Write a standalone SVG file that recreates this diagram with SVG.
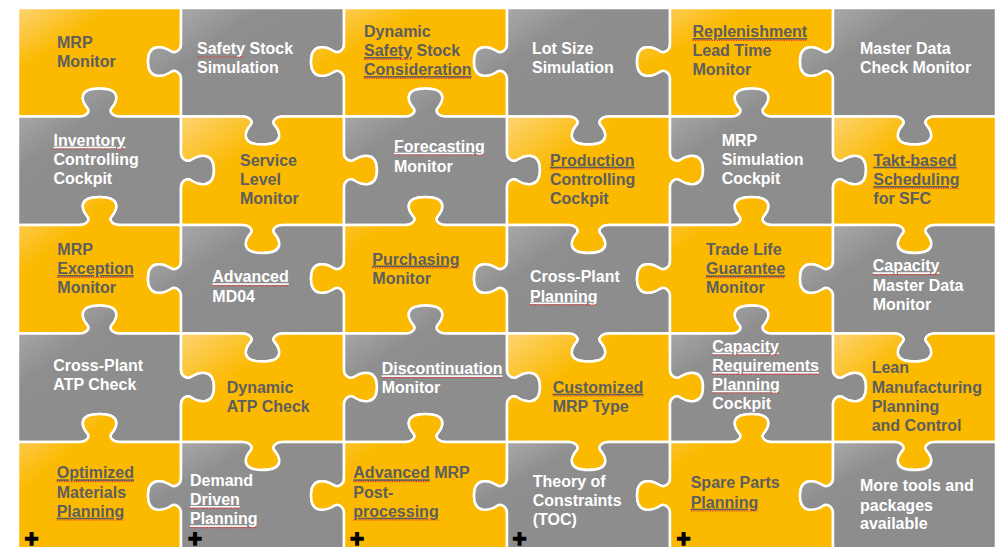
<svg xmlns="http://www.w3.org/2000/svg" width="995" height="547" viewBox="0 0 995 547">
<defs>
<linearGradient id="gy" x1="0" y1="0" x2="1" y2="1"><stop offset="0" stop-color="#FDD473"/><stop offset="0.3" stop-color="#FBB900"/><stop offset="1" stop-color="#FBB900"/></linearGradient>
<linearGradient id="gg" x1="0" y1="0" x2="1" y2="1"><stop offset="0" stop-color="#B3B3B3"/><stop offset="0.3" stop-color="#8E8E8E"/><stop offset="1" stop-color="#8C8C8C"/></linearGradient>
<style>
.y{fill:url(#gy);stroke:#fff;stroke-width:2.5;stroke-linejoin:round}
.g{fill:url(#gg);stroke:#fff;stroke-width:2.5;stroke-linejoin:round}
text{font-family:"Liberation Sans",Arial,sans-serif;font-weight:bold;font-size:16px}
.d{fill:#5E5E5E}
.w{fill:#FFFFFF}
.u{text-decoration:underline}
.sq{stroke:#E8322E;stroke-width:1.2;stroke-dasharray:1.2 1.2;fill:none}
.pl{font-size:24px;fill:#000;stroke:#000;stroke-width:1.3;text-anchor:middle}
</style>
</defs>
<rect width="995" height="547" fill="#fff"/>

<g id="r0c0">
<path class="y" transform="translate(18,8)" d="M0,0h163v36.5c0,5.1 -4.95,9.52 -9.9,6.8c-8.25,-5.1 -23.1,-8.5 -23.1,10.2c0,18.7 14.85,15.3 23.1,10.2c4.95,-2.72 9.9,1.7 9.9,6.8v38h-61.5c-6,0 -11.2,-4.2 -8,-8.4c6,-7 10,-19.6 -12,-19.6c-22,0 -18,12.6 -12,19.6c3.2,4.2 -2,8.4 -8,8.4h-61.5z"/>
<text class="d"><tspan x="57" y="47.7">MRP</tspan><tspan x="57" y="67">Monitor</tspan></text>
</g>
<g id="r0c1">
<path class="g" transform="translate(181,8)" d="M0,0h163v36.5c0,5.1 -4.95,9.52 -9.9,6.8c-8.25,-5.1 -23.1,-8.5 -23.1,10.2c0,18.7 14.85,15.3 23.1,10.2c4.95,-2.72 9.9,1.7 9.9,6.8v38h-61.5c-6,0 -11.2,4.2 -8,8.4c6,7 10,19.6 -12,19.6c-22,0 -18,-12.6 -12,-19.6c3.2,-4.2 -2,-8.4 -8,-8.4h-61.5v-38c0,-5.1 -4.95,-9.52 -9.9,-6.8c-8.25,5.1 -23.1,8.5 -23.1,-10.2c0,-18.7 14.85,-15.3 23.1,-10.2c4.95,2.72 9.9,-1.7 9.9,-6.8z"/>
<text class="w"><tspan x="197" y="54">Safety Stock</tspan><tspan x="197" y="73">Simulation</tspan></text>
<line class="sq" x1="197" y1="57" x2="245" y2="57"/>
</g>
<g id="r0c2">
<path class="y" transform="translate(344,8)" d="M0,0h163v36.5c0,5.1 -4.95,9.52 -9.9,6.8c-8.25,-5.1 -23.1,-8.5 -23.1,10.2c0,18.7 14.85,15.3 23.1,10.2c4.95,-2.72 9.9,1.7 9.9,6.8v38h-61.5c-6,0 -11.2,-4.2 -8,-8.4c6,-7 10,-19.6 -12,-19.6c-22,0 -18,12.6 -12,19.6c3.2,4.2 -2,8.4 -8,8.4h-61.5v-38c0,-5.1 -4.95,-9.52 -9.9,-6.8c-8.25,5.1 -23.1,8.5 -23.1,-10.2c0,-18.7 14.85,-15.3 23.1,-10.2c4.95,2.72 9.9,-1.7 9.9,-6.8z"/>
<text class="d"><tspan x="364" y="36.7">Dynamic</tspan><tspan x="364" y="56"><tspan class="u">Safety</tspan> Stock</tspan><tspan x="364" y="75" class="u">Consideration</tspan></text>
<line class="sq" x1="364" y1="59.3" x2="412" y2="59.3"/>
<line class="sq" x1="364" y1="78.3" x2="471.6" y2="78.3"/>
</g>
<g id="r0c3">
<path class="g" transform="translate(507,8)" d="M0,0h163v36.5c0,5.1 -4.95,9.52 -9.9,6.8c-8.25,-5.1 -23.1,-8.5 -23.1,10.2c0,18.7 14.85,15.3 23.1,10.2c4.95,-2.72 9.9,1.7 9.9,6.8v38h-61.5c-6,0 -11.2,4.2 -8,8.4c6,7 10,19.6 -12,19.6c-22,0 -18,-12.6 -12,-19.6c3.2,-4.2 -2,-8.4 -8,-8.4h-61.5v-38c0,-5.1 -4.95,-9.52 -9.9,-6.8c-8.25,5.1 -23.1,8.5 -23.1,-10.2c0,-18.7 14.85,-15.3 23.1,-10.2c4.95,2.72 9.9,-1.7 9.9,-6.8z"/>
<text class="w"><tspan x="532" y="53.5">Lot Size</tspan><tspan x="532" y="73">Simulation</tspan></text>
</g>
<g id="r0c4">
<path class="y" transform="translate(670,8)" d="M0,0h163v36.5c0,5.1 -4.95,9.52 -9.9,6.8c-8.25,-5.1 -23.1,-8.5 -23.1,10.2c0,18.7 14.85,15.3 23.1,10.2c4.95,-2.72 9.9,1.7 9.9,6.8v38h-61.5c-6,0 -11.2,-4.2 -8,-8.4c6,-7 10,-19.6 -12,-19.6c-22,0 -18,12.6 -12,19.6c3.2,4.2 -2,8.4 -8,8.4h-61.5v-38c0,-5.1 -4.95,-9.52 -9.9,-6.8c-8.25,5.1 -23.1,8.5 -23.1,-10.2c0,-18.7 14.85,-15.3 23.1,-10.2c4.95,2.72 9.9,-1.7 9.9,-6.8z"/>
<text class="d"><tspan x="692.5" y="37" class="u">Replenishment</tspan><tspan x="692.5" y="56">Lead Time</tspan><tspan x="692.5" y="75">Monitor</tspan></text>
<line class="sq" x1="692.5" y1="40.3" x2="807.2" y2="40.3"/>
</g>
<g id="r0c5">
<path class="g" transform="translate(833,8)" d="M0,0h163v108.5h-61.5c-6,0 -11.2,4.2 -8,8.4c6,7 10,19.6 -12,19.6c-22,0 -18,-12.6 -12,-19.6c3.2,-4.2 -2,-8.4 -8,-8.4h-61.5v-38c0,-5.1 -4.95,-9.52 -9.9,-6.8c-8.25,5.1 -23.1,8.5 -23.1,-10.2c0,-18.7 14.85,-15.3 23.1,-10.2c4.95,2.72 9.9,-1.7 9.9,-6.8z"/>
<text class="w"><tspan x="860" y="53.5">Master Data</tspan><tspan x="860" y="73">Check Monitor</tspan></text>
</g>

<g id="r1c0">
<path class="g" transform="translate(18,116.5)" d="M0,0h61.5c6,0 11.2,-4.2 8,-8.4c-6,-7 -10,-19.6 12,-19.6c22,0 18,12.6 12,19.6c-3.2,4.2 2,8.4 8,8.4h61.5v36.5c0,5.1 4.95,9.52 9.9,6.8c8.25,-5.1 23.1,-8.5 23.1,10.2c0,18.7 -14.85,15.3 -23.1,10.2c-4.95,-2.72 -9.9,1.7 -9.9,6.8v38h-61.5c-6,0 -11.2,-4.2 -8,-8.4c6,-7 10,-19.6 -12,-19.6c-22,0 -18,12.6 -12,19.6c3.2,4.2 -2,8.4 -8,8.4h-61.5z"/>
<text class="w"><tspan x="53.5" y="145.7" class="u">Inventory</tspan><tspan x="53.5" y="165">Controlling</tspan><tspan x="53.5" y="184.3">Cockpit</tspan></text>
<line class="sq" x1="53.5" y1="149" x2="125.5" y2="149"/>
</g>
<g id="r1c1">
<path class="y" transform="translate(181,116.5)" d="M0,0h61.5c6,0 11.2,4.2 8,8.4c-6,7 -10,19.6 12,19.6c22,0 18,-12.6 12,-19.6c-3.2,-4.2 2,-8.4 8,-8.4h61.5v36.5c0,5.1 4.95,9.52 9.9,6.8c8.25,-5.1 23.1,-8.5 23.1,10.2c0,18.7 -14.85,15.3 -23.1,10.2c-4.95,-2.72 -9.9,1.7 -9.9,6.8v38h-61.5c-6,0 -11.2,4.2 -8,8.4c6,7 10,19.6 -12,19.6c-22,0 -18,-12.6 -12,-19.6c3.2,-4.2 -2,-8.4 -8,-8.4h-61.5v-38c0,-5.1 4.95,-9.52 9.9,-6.8c8.25,5.1 23.1,8.5 23.1,-10.2c0,-18.7 -14.85,-15.3 -23.1,-10.2c-4.95,2.72 -9.9,-1.7 -9.9,-6.8z"/>
<text class="d"><tspan x="240" y="165.7">Service</tspan><tspan x="240" y="185">Level</tspan><tspan x="240" y="204">Monitor</tspan></text>
</g>
<g id="r1c2">
<path class="g" transform="translate(344,116.5)" d="M0,0h61.5c6,0 11.2,-4.2 8,-8.4c-6,-7 -10,-19.6 12,-19.6c22,0 18,12.6 12,19.6c-3.2,4.2 2,8.4 8,8.4h61.5v36.5c0,5.1 4.95,9.52 9.9,6.8c8.25,-5.1 23.1,-8.5 23.1,10.2c0,18.7 -14.85,15.3 -23.1,10.2c-4.95,-2.72 -9.9,1.7 -9.9,6.8v38h-61.5c-6,0 -11.2,-4.2 -8,-8.4c6,-7 10,-19.6 -12,-19.6c-22,0 -18,12.6 -12,19.6c3.2,4.2 -2,8.4 -8,8.4h-61.5v-38c0,-5.1 4.95,-9.52 9.9,-6.8c8.25,5.1 23.1,8.5 23.1,-10.2c0,-18.7 -14.85,-15.3 -23.1,-10.2c-4.95,2.72 -9.9,-1.7 -9.9,-6.8z"/>
<text class="w"><tspan x="394" y="151.7" class="u">Forecasting</tspan><tspan x="394" y="171.5">Monitor</tspan></text>
<line class="sq" x1="394" y1="155" x2="484.7" y2="155"/>
</g>
<g id="r1c3">
<path class="y" transform="translate(507,116.5)" d="M0,0h61.5c6,0 11.2,4.2 8,8.4c-6,7 -10,19.6 12,19.6c22,0 18,-12.6 12,-19.6c-3.2,-4.2 2,-8.4 8,-8.4h61.5v36.5c0,5.1 4.95,9.52 9.9,6.8c8.25,-5.1 23.1,-8.5 23.1,10.2c0,18.7 -14.85,15.3 -23.1,10.2c-4.95,-2.72 -9.9,1.7 -9.9,6.8v38h-61.5c-6,0 -11.2,4.2 -8,8.4c6,7 10,19.6 -12,19.6c-22,0 -18,-12.6 -12,-19.6c3.2,-4.2 -2,-8.4 -8,-8.4h-61.5v-38c0,-5.1 4.95,-9.52 9.9,-6.8c8.25,5.1 23.1,8.5 23.1,-10.2c0,-18.7 -14.85,-15.3 -23.1,-10.2c-4.95,2.72 -9.9,-1.7 -9.9,-6.8z"/>
<text class="d"><tspan x="550" y="165.7" class="u">Production</tspan><tspan x="550" y="185">Controlling</tspan><tspan x="550" y="204">Cockpit</tspan></text>
<line class="sq" x1="550" y1="169" x2="634.4" y2="169"/>
</g>
<g id="r1c4">
<path class="g" transform="translate(670,116.5)" d="M0,0h61.5c6,0 11.2,-4.2 8,-8.4c-6,-7 -10,-19.6 12,-19.6c22,0 18,12.6 12,19.6c-3.2,4.2 2,8.4 8,8.4h61.5v36.5c0,5.1 4.95,9.52 9.9,6.8c8.25,-5.1 23.1,-8.5 23.1,10.2c0,18.7 -14.85,15.3 -23.1,10.2c-4.95,-2.72 -9.9,1.7 -9.9,6.8v38h-61.5c-6,0 -11.2,-4.2 -8,-8.4c6,-7 10,-19.6 -12,-19.6c-22,0 -18,12.6 -12,19.6c3.2,4.2 -2,8.4 -8,8.4h-61.5v-38c0,-5.1 4.95,-9.52 9.9,-6.8c8.25,5.1 23.1,8.5 23.1,-10.2c0,-18.7 -14.85,-15.3 -23.1,-10.2c-4.95,2.72 -9.9,-1.7 -9.9,-6.8z"/>
<text class="w"><tspan x="721.7" y="145.7">MRP</tspan><tspan x="721.7" y="165">Simulation</tspan><tspan x="721.7" y="184.3">Cockpit</tspan></text>
</g>
<g id="r1c5">
<path class="y" transform="translate(833,116.5)" d="M0,0h61.5c6,0 11.2,4.2 8,8.4c-6,7 -10,19.6 12,19.6c22,0 18,-12.6 12,-19.6c-3.2,-4.2 2,-8.4 8,-8.4h61.5v108.5h-61.5c-6,0 -11.2,4.2 -8,8.4c6,7 10,19.6 -12,19.6c-22,0 -18,-12.6 -12,-19.6c3.2,-4.2 -2,-8.4 -8,-8.4h-61.5v-38c0,-5.1 4.95,-9.52 9.9,-6.8c8.25,5.1 23.1,8.5 23.1,-10.2c0,-18.7 -14.85,-15.3 -23.1,-10.2c-4.95,2.72 -9.9,-1.7 -9.9,-6.8z"/>
<text class="d"><tspan x="873.3" y="165.7" class="u">Takt-based</tspan><tspan x="873.3" y="185" class="u">Scheduling</tspan><tspan x="873.3" y="204">for SFC</tspan></text>
<line class="sq" x1="911.5" y1="169" x2="957.8" y2="169"/>
<line class="sq" x1="873.3" y1="188.3" x2="959.5" y2="188.3"/>
</g>

<g id="r2c0">
<path class="y" transform="translate(18,225)" d="M0,0h61.5c6,0 11.2,-4.2 8,-8.4c-6,-7 -10,-19.6 12,-19.6c22,0 18,12.6 12,19.6c-3.2,4.2 2,8.4 8,8.4h61.5v36.5c0,5.1 -4.95,9.52 -9.9,6.8c-8.25,-5.1 -23.1,-8.5 -23.1,10.2c0,18.7 14.85,15.3 23.1,10.2c4.95,-2.72 9.9,1.7 9.9,6.8v38h-61.5c-6,0 -11.2,-4.2 -8,-8.4c6,-7 10,-19.6 -12,-19.6c-22,0 -18,12.6 -12,19.6c3.2,4.2 -2,8.4 -8,8.4h-61.5z"/>
<text class="d"><tspan x="57.3" y="254.5">MRP</tspan><tspan x="57.3" y="274" class="u">Exception</tspan><tspan x="57.3" y="293.3">Monitor</tspan></text>
<line class="sq" x1="57.3" y1="277.3" x2="133.8" y2="277.3"/>
</g>
<g id="r2c1">
<path class="g" transform="translate(181,225)" d="M0,0h61.5c6,0 11.2,4.2 8,8.4c-6,7 -10,19.6 12,19.6c22,0 18,-12.6 12,-19.6c-3.2,-4.2 2,-8.4 8,-8.4h61.5v36.5c0,5.1 -4.95,9.52 -9.9,6.8c-8.25,-5.1 -23.1,-8.5 -23.1,10.2c0,18.7 14.85,15.3 23.1,10.2c4.95,-2.72 9.9,1.7 9.9,6.8v38h-61.5c-6,0 -11.2,4.2 -8,8.4c6,7 10,19.6 -12,19.6c-22,0 -18,-12.6 -12,-19.6c3.2,-4.2 -2,-8.4 -8,-8.4h-61.5v-38c0,-5.1 -4.95,-9.52 -9.9,-6.8c-8.25,5.1 -23.1,8.5 -23.1,-10.2c0,-18.7 14.85,-15.3 23.1,-10.2c4.95,2.72 9.9,-1.7 9.9,-6.8z"/>
<text class="w"><tspan x="212.3" y="282.3" class="u">Advanced</tspan><tspan x="212.3" y="301.7">MD04</tspan></text>
<line class="sq" x1="212.3" y1="285.6" x2="288.8" y2="285.6"/>
</g>
<g id="r2c2">
<path class="y" transform="translate(344,225)" d="M0,0h61.5c6,0 11.2,-4.2 8,-8.4c-6,-7 -10,-19.6 12,-19.6c22,0 18,12.6 12,19.6c-3.2,4.2 2,8.4 8,8.4h61.5v36.5c0,5.1 -4.95,9.52 -9.9,6.8c-8.25,-5.1 -23.1,-8.5 -23.1,10.2c0,18.7 14.85,15.3 23.1,10.2c4.95,-2.72 9.9,1.7 9.9,6.8v38h-61.5c-6,0 -11.2,-4.2 -8,-8.4c6,-7 10,-19.6 -12,-19.6c-22,0 -18,12.6 -12,19.6c3.2,4.2 -2,8.4 -8,8.4h-61.5v-38c0,-5.1 -4.95,-9.52 -9.9,-6.8c-8.25,5.1 -23.1,8.5 -23.1,-10.2c0,-18.7 14.85,-15.3 23.1,-10.2c4.95,2.72 9.9,-1.7 9.9,-6.8z"/>
<text class="d"><tspan x="372.3" y="264.5" class="u">Purchasing</tspan><tspan x="372.3" y="284">Monitor</tspan></text>
<line class="sq" x1="372.3" y1="267.8" x2="459.4" y2="267.8"/>
</g>
<g id="r2c3">
<path class="g" transform="translate(507,225)" d="M0,0h61.5c6,0 11.2,4.2 8,8.4c-6,7 -10,19.6 12,19.6c22,0 18,-12.6 12,-19.6c-3.2,-4.2 2,-8.4 8,-8.4h61.5v36.5c0,5.1 -4.95,9.52 -9.9,6.8c-8.25,-5.1 -23.1,-8.5 -23.1,10.2c0,18.7 14.85,15.3 23.1,10.2c4.95,-2.72 9.9,1.7 9.9,6.8v38h-61.5c-6,0 -11.2,4.2 -8,8.4c6,7 10,19.6 -12,19.6c-22,0 -18,-12.6 -12,-19.6c3.2,-4.2 -2,-8.4 -8,-8.4h-61.5v-38c0,-5.1 -4.95,-9.52 -9.9,-6.8c-8.25,5.1 -23.1,8.5 -23.1,-10.2c0,-18.7 14.85,-15.3 23.1,-10.2c4.95,2.72 9.9,-1.7 9.9,-6.8z"/>
<text class="w"><tspan x="530" y="282.3">Cross-Plant</tspan><tspan x="530" y="301.5" class="u">Planning</tspan></text>
<line class="sq" x1="530" y1="304.8" x2="597.6" y2="304.8"/>
</g>
<g id="r2c4">
<path class="y" transform="translate(670,225)" d="M0,0h61.5c6,0 11.2,-4.2 8,-8.4c-6,-7 -10,-19.6 12,-19.6c22,0 18,12.6 12,19.6c-3.2,4.2 2,8.4 8,8.4h61.5v36.5c0,5.1 -4.95,9.52 -9.9,6.8c-8.25,-5.1 -23.1,-8.5 -23.1,10.2c0,18.7 14.85,15.3 23.1,10.2c4.95,-2.72 9.9,1.7 9.9,6.8v38h-61.5c-6,0 -11.2,-4.2 -8,-8.4c6,-7 10,-19.6 -12,-19.6c-22,0 -18,12.6 -12,19.6c3.2,4.2 -2,8.4 -8,8.4h-61.5v-38c0,-5.1 -4.95,-9.52 -9.9,-6.8c-8.25,5.1 -23.1,8.5 -23.1,-10.2c0,-18.7 14.85,-15.3 23.1,-10.2c4.95,2.72 9.9,-1.7 9.9,-6.8z"/>
<text class="d"><tspan x="706" y="255">Trade Life</tspan><tspan x="706" y="274.3" class="u">Guarantee</tspan><tspan x="706" y="293.3">Monitor</tspan></text>
<line class="sq" x1="706" y1="277.6" x2="785.1" y2="277.6"/>
</g>
<g id="r2c5">
<path class="g" transform="translate(833,225)" d="M0,0h61.5c6,0 11.2,4.2 8,8.4c-6,7 -10,19.6 12,19.6c22,0 18,-12.6 12,-19.6c-3.2,-4.2 2,-8.4 8,-8.4h61.5v108.5h-61.5c-6,0 -11.2,4.2 -8,8.4c6,7 10,19.6 -12,19.6c-22,0 -18,-12.6 -12,-19.6c3.2,-4.2 -2,-8.4 -8,-8.4h-61.5v-38c0,-5.1 -4.95,-9.52 -9.9,-6.8c-8.25,5.1 -23.1,8.5 -23.1,-10.2c0,-18.7 14.85,-15.3 23.1,-10.2c4.95,2.72 9.9,-1.7 9.9,-6.8z"/>
<text class="w"><tspan x="872.7" y="271.3" class="u">Capacity</tspan><tspan x="872.7" y="291">Master Data</tspan><tspan x="872.7" y="310.3">Monitor</tspan></text>
<line class="sq" x1="872.7" y1="274.6" x2="939.4" y2="274.6"/>
</g>

<g id="r3c0">
<path class="g" transform="translate(18,333.5)" d="M0,0h61.5c6,0 11.2,-4.2 8,-8.4c-6,-7 -10,-19.6 12,-19.6c22,0 18,12.6 12,19.6c-3.2,4.2 2,8.4 8,8.4h61.5v36.5c0,5.1 4.95,9.52 9.9,6.8c8.25,-5.1 23.1,-8.5 23.1,10.2c0,18.7 -14.85,15.3 -23.1,10.2c-4.95,-2.72 -9.9,1.7 -9.9,6.8v38h-61.5c-6,0 -11.2,-4.2 -8,-8.4c6,-7 10,-19.6 -12,-19.6c-22,0 -18,12.6 -12,19.6c3.2,4.2 -2,8.4 -8,8.4h-61.5z"/>
<text class="w"><tspan x="53.3" y="371">Cross-Plant</tspan><tspan x="53.3" y="390">ATP Check</tspan></text>
</g>
<g id="r3c1">
<path class="y" transform="translate(181,333.5)" d="M0,0h61.5c6,0 11.2,4.2 8,8.4c-6,7 -10,19.6 12,19.6c22,0 18,-12.6 12,-19.6c-3.2,-4.2 2,-8.4 8,-8.4h61.5v36.5c0,5.1 4.95,9.52 9.9,6.8c8.25,-5.1 23.1,-8.5 23.1,10.2c0,18.7 -14.85,15.3 -23.1,10.2c-4.95,-2.72 -9.9,1.7 -9.9,6.8v38h-61.5c-6,0 -11.2,4.2 -8,8.4c6,7 10,19.6 -12,19.6c-22,0 -18,-12.6 -12,-19.6c3.2,-4.2 -2,-8.4 -8,-8.4h-61.5v-38c0,-5.1 4.95,-9.52 9.9,-6.8c8.25,5.1 23.1,8.5 23.1,-10.2c0,-18.7 -14.85,-15.3 -23.1,-10.2c-4.95,2.72 -9.9,-1.7 -9.9,-6.8z"/>
<text class="d"><tspan x="226.7" y="392.7">Dynamic</tspan><tspan x="226.7" y="411.7">ATP Check</tspan></text>
</g>
<g id="r3c2">
<path class="g" transform="translate(344,333.5)" d="M0,0h61.5c6,0 11.2,-4.2 8,-8.4c-6,-7 -10,-19.6 12,-19.6c22,0 18,12.6 12,19.6c-3.2,4.2 2,8.4 8,8.4h61.5v36.5c0,5.1 4.95,9.52 9.9,6.8c8.25,-5.1 23.1,-8.5 23.1,10.2c0,18.7 -14.85,15.3 -23.1,10.2c-4.95,-2.72 -9.9,1.7 -9.9,6.8v38h-61.5c-6,0 -11.2,-4.2 -8,-8.4c6,-7 10,-19.6 -12,-19.6c-22,0 -18,12.6 -12,19.6c3.2,4.2 -2,8.4 -8,8.4h-61.5v-38c0,-5.1 4.95,-9.52 9.9,-6.8c8.25,5.1 23.1,8.5 23.1,-10.2c0,-18.7 -14.85,-15.3 -23.1,-10.2c-4.95,2.72 -9.9,-1.7 -9.9,-6.8z"/>
<text class="w"><tspan x="381.7" y="374.3" class="u">Discontinuation</tspan><tspan x="381.7" y="393.3">Monitor</tspan></text>
<line class="sq" x1="381.7" y1="377.6" x2="502.6" y2="377.6"/>
</g>
<g id="r3c3">
<path class="y" transform="translate(507,333.5)" d="M0,0h61.5c6,0 11.2,4.2 8,8.4c-6,7 -10,19.6 12,19.6c22,0 18,-12.6 12,-19.6c-3.2,-4.2 2,-8.4 8,-8.4h61.5v36.5c0,5.1 4.95,9.52 9.9,6.8c8.25,-5.1 23.1,-8.5 23.1,10.2c0,18.7 -14.85,15.3 -23.1,10.2c-4.95,-2.72 -9.9,1.7 -9.9,6.8v38h-61.5c-6,0 -11.2,4.2 -8,8.4c6,7 10,19.6 -12,19.6c-22,0 -18,-12.6 -12,-19.6c3.2,-4.2 -2,-8.4 -8,-8.4h-61.5v-38c0,-5.1 4.95,-9.52 9.9,-6.8c8.25,5.1 23.1,8.5 23.1,-10.2c0,-18.7 -14.85,-15.3 -23.1,-10.2c-4.95,2.72 -9.9,-1.7 -9.9,-6.8z"/>
<text class="d"><tspan x="552.7" y="392.7" class="u">Customized</tspan><tspan x="552.7" y="411.7">MRP Type</tspan></text>
<line class="sq" x1="552.7" y1="396" x2="643.4" y2="396"/>
</g>
<g id="r3c4">
<path class="g" transform="translate(670,333.5)" d="M0,0h61.5c6,0 11.2,-4.2 8,-8.4c-6,-7 -10,-19.6 12,-19.6c22,0 18,12.6 12,19.6c-3.2,4.2 2,8.4 8,8.4h61.5v36.5c0,5.1 4.95,9.52 9.9,6.8c8.25,-5.1 23.1,-8.5 23.1,10.2c0,18.7 -14.85,15.3 -23.1,10.2c-4.95,-2.72 -9.9,1.7 -9.9,6.8v38h-61.5c-6,0 -11.2,-4.2 -8,-8.4c6,-7 10,-19.6 -12,-19.6c-22,0 -18,12.6 -12,19.6c3.2,4.2 -2,8.4 -8,8.4h-61.5v-38c0,-5.1 4.95,-9.52 9.9,-6.8c8.25,5.1 23.1,8.5 23.1,-10.2c0,-18.7 -14.85,-15.3 -23.1,-10.2c-4.95,2.72 -9.9,-1.7 -9.9,-6.8z"/>
<text class="w"><tspan x="712.3" y="351.7" class="u">Capacity</tspan><tspan x="712.3" y="371" class="u">Requirements</tspan><tspan x="712.3" y="389.7" class="u">Planning</tspan><tspan x="712.3" y="408.7">Cockpit</tspan></text>
<line class="sq" x1="712.3" y1="355" x2="779" y2="355"/>
<line class="sq" x1="712.3" y1="374.3" x2="819" y2="374.3"/>
<line class="sq" x1="712.3" y1="393" x2="779.9" y2="393"/>
</g>
<g id="r3c5">
<path class="y" transform="translate(833,333.5)" d="M0,0h61.5c6,0 11.2,4.2 8,8.4c-6,7 -10,19.6 12,19.6c22,0 18,-12.6 12,-19.6c-3.2,-4.2 2,-8.4 8,-8.4h61.5v108.5h-61.5c-6,0 -11.2,4.2 -8,8.4c6,7 10,19.6 -12,19.6c-22,0 -18,-12.6 -12,-19.6c3.2,-4.2 -2,-8.4 -8,-8.4h-61.5v-38c0,-5.1 4.95,-9.52 9.9,-6.8c8.25,5.1 23.1,8.5 23.1,-10.2c0,-18.7 -14.85,-15.3 -23.1,-10.2c-4.95,2.72 -9.9,-1.7 -9.9,-6.8z"/>
<text class="d"><tspan x="871.7" y="373.3">Lean</tspan><tspan x="871.7" y="392.7">Manufacturing</tspan><tspan x="871.7" y="411.7">Planning</tspan><tspan x="871.7" y="430.7">and Control</tspan></text>
</g>

<g id="r4c0">
<path class="y" transform="translate(18,442)" d="M0,0h61.5c6,0 11.2,-4.2 8,-8.4c-6,-7 -10,-19.6 12,-19.6c22,0 18,12.6 12,19.6c-3.2,4.2 2,8.4 8,8.4h61.5v36.5c0,5.1 -4.95,9.52 -9.9,6.8c-8.25,-5.1 -23.1,-8.5 -23.1,10.2c0,18.7 14.85,15.3 23.1,10.2c4.95,-2.72 9.9,1.7 9.9,6.8v38h-163z"/>
<text class="d"><tspan x="56.7" y="478.3" class="u">Optimized</tspan><tspan x="56.7" y="497.7">Materials</tspan><tspan x="56.7" y="516.7" class="u">Planning</tspan></text>
<line class="sq" x1="56.7" y1="481.6" x2="134" y2="481.6"/>
<line class="sq" x1="56.7" y1="520" x2="124.3" y2="520"/>
<text class="pl" x="31.5" y="546.5">+</text>
</g>
<g id="r4c1">
<path class="g" transform="translate(181,442)" d="M0,0h61.5c6,0 11.2,4.2 8,8.4c-6,7 -10,19.6 12,19.6c22,0 18,-12.6 12,-19.6c-3.2,-4.2 2,-8.4 8,-8.4h61.5v36.5c0,5.1 -4.95,9.52 -9.9,6.8c-8.25,-5.1 -23.1,-8.5 -23.1,10.2c0,18.7 14.85,15.3 23.1,10.2c4.95,-2.72 9.9,1.7 9.9,6.8v38h-163v-38c0,-5.1 -4.95,-9.52 -9.9,-6.8c-8.25,5.1 -23.1,8.5 -23.1,-10.2c0,-18.7 14.85,-15.3 23.1,-10.2c4.95,2.72 9.9,-1.7 9.9,-6.8z"/>
<text class="w"><tspan x="190" y="485.7">Demand</tspan><tspan x="190" y="505" class="u">Driven</tspan><tspan x="190" y="524.3" class="u">Planning</tspan></text>
<line class="sq" x1="190" y1="508.3" x2="239.8" y2="508.3"/>
<line class="sq" x1="190" y1="527.6" x2="257.6" y2="527.6"/>
<text class="pl" x="195" y="546.5">+</text>
</g>
<g id="r4c2">
<path class="y" transform="translate(344,442)" d="M0,0h61.5c6,0 11.2,-4.2 8,-8.4c-6,-7 -10,-19.6 12,-19.6c22,0 18,12.6 12,19.6c-3.2,4.2 2,8.4 8,8.4h61.5v36.5c0,5.1 -4.95,9.52 -9.9,6.8c-8.25,-5.1 -23.1,-8.5 -23.1,10.2c0,18.7 14.85,15.3 23.1,10.2c4.95,-2.72 9.9,1.7 9.9,6.8v38h-163v-38c0,-5.1 -4.95,-9.52 -9.9,-6.8c-8.25,5.1 -23.1,8.5 -23.1,-10.2c0,-18.7 14.85,-15.3 23.1,-10.2c4.95,2.72 9.9,-1.7 9.9,-6.8z"/>
<text class="d"><tspan x="353.3" y="478.3"><tspan class="u">Advanced</tspan> MRP</tspan><tspan x="353.3" y="497.7">Post-</tspan><tspan x="353.3" y="516.7" class="u">processing</tspan></text>
<line class="sq" x1="353.3" y1="481.6" x2="429.8" y2="481.6"/>
<line class="sq" x1="353.3" y1="520" x2="438.7" y2="520"/>
<text class="pl" x="357" y="546.5">+</text>
</g>
<g id="r4c3">
<path class="g" transform="translate(507,442)" d="M0,0h61.5c6,0 11.2,4.2 8,8.4c-6,7 -10,19.6 12,19.6c22,0 18,-12.6 12,-19.6c-3.2,-4.2 2,-8.4 8,-8.4h61.5v36.5c0,5.1 -4.95,9.52 -9.9,6.8c-8.25,-5.1 -23.1,-8.5 -23.1,10.2c0,18.7 14.85,15.3 23.1,10.2c4.95,-2.72 9.9,1.7 9.9,6.8v38h-163v-38c0,-5.1 -4.95,-9.52 -9.9,-6.8c-8.25,5.1 -23.1,8.5 -23.1,-10.2c0,-18.7 14.85,-15.3 23.1,-10.2c4.95,2.72 9.9,-1.7 9.9,-6.8z"/>
<text class="w"><tspan x="532.7" y="486.7">Theory of</tspan><tspan x="532.7" y="506">Constraints</tspan><tspan x="532.7" y="525">(TOC)</tspan></text>
<text class="pl" x="519.5" y="546.5">+</text>
</g>
<g id="r4c4">
<path class="y" transform="translate(670,442)" d="M0,0h61.5c6,0 11.2,-4.2 8,-8.4c-6,-7 -10,-19.6 12,-19.6c22,0 18,12.6 12,19.6c-3.2,4.2 2,8.4 8,8.4h61.5v36.5c0,5.1 -4.95,9.52 -9.9,6.8c-8.25,-5.1 -23.1,-8.5 -23.1,10.2c0,18.7 14.85,15.3 23.1,10.2c4.95,-2.72 9.9,1.7 9.9,6.8v38h-163v-38c0,-5.1 -4.95,-9.52 -9.9,-6.8c-8.25,5.1 -23.1,8.5 -23.1,-10.2c0,-18.7 14.85,-15.3 23.1,-10.2c4.95,2.72 9.9,-1.7 9.9,-6.8z"/>
<text class="d"><tspan x="690.7" y="488.3">Spare Parts</tspan><tspan x="690.7" y="507.7" class="u">Planning</tspan></text>
<line class="sq" x1="690.7" y1="511" x2="758.3" y2="511"/>
<text class="pl" x="683.5" y="546.5">+</text>
</g>
<g id="r4c5">
<path class="g" transform="translate(833,442)" d="M0,0h61.5c6,0 11.2,4.2 8,8.4c-6,7 -10,19.6 12,19.6c22,0 18,-12.6 12,-19.6c-3.2,-4.2 2,-8.4 8,-8.4h61.5v108.5h-163v-38c0,-5.1 -4.95,-9.52 -9.9,-6.8c-8.25,5.1 -23.1,8.5 -23.1,-10.2c0,-18.7 14.85,-15.3 23.1,-10.2c4.95,2.72 9.9,-1.7 9.9,-6.8z"/>
<text class="w"><tspan x="860" y="491">More tools and</tspan><tspan x="860" y="510.7">packages</tspan><tspan x="860" y="529.3">available</tspan></text>
</g>
</svg>
